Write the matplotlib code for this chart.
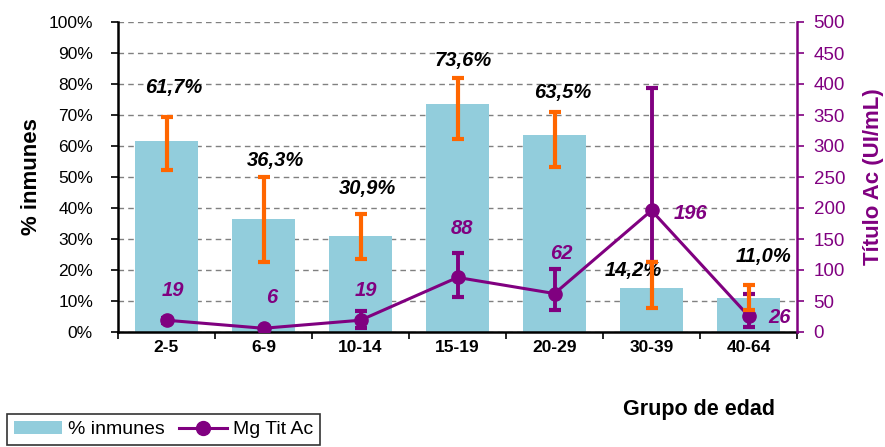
import matplotlib
matplotlib.use("Agg")
import matplotlib.pyplot as plt
import numpy as np
from matplotlib.lines import Line2D
from matplotlib.patches import Patch

plt.rcParams['font.family'] = ['Liberation Sans', 'DejaVu Sans']

# ---- data ----
groups = ["2-5", "6-9", "10-14", "15-19", "20-29", "30-39", "40-64"]
pct_immune = [61.7, 36.3, 30.9, 73.6, 63.5, 14.2, 11.0]
pct_ci_low = [52.3, 22.7, 23.4, 62.2, 53.3, 7.6, 7.1]
pct_ci_high = [69.2, 50.1, 38.2, 81.9, 71.1, 22.6, 15.3]
pct_labels = ["61,7%", "36,3%", "30,9%", "73,6%", "63,5%", "14,2%", "11,0%"]

titer_gm = [19, 6, 19, 88, 62, 196, 26]
titer_ci_low = [15, 6, 6, 56, 35, 113, 8.5]
titer_ci_high = [23, 6, 34, 128, 101, 393, 62]
titer_labels = ["19", "6", "19", "88", "62", "196", "26"]

# ---- label placement (style) ----
pct_lab_dx = [0.07, 0.12, 0.07, 0.06, 0.08, -0.19, 0.15]
pct_lab_y = [78.8, 55.3, 46.4, 87.5, 77.1, 19.7, 24.4]
tit_lab_dx = [0.07, 0.08, 0.06, 0.05, 0.07, 0.40, 0.32]
tit_lab_y = [67.5, 55.8, 67.5, 166.7, 126.5, 190.8, 23.0]

bar_color = "#92CDDC"
orange = "#FF6600"
purple = "#800080"

fig = plt.figure(figsize=(8.85, 4.47), dpi=100)
ax = fig.add_axes([118/885, 1-332/447, (797-118)/885, (332-22)/447])
ax2 = ax.twinx()

x = np.arange(len(groups))
ax.bar(x, pct_immune, width=0.64, color=bar_color, zorder=2)
pct = np.array(pct_immune)
ax.set_ylim(0, 100)
ax.set_xlim(-0.5, len(groups)-0.5)

ax.set_yticks(np.arange(0, 101, 10))
ax.set_yticklabels([f"{v}%" for v in range(0, 101, 10)], fontsize=12.5)
ax.yaxis.grid(True, linestyle=(0, (4, 3)), color="#808080", linewidth=1.0, zorder=0)
ax.set_axisbelow(True)
ax.tick_params(axis='y', direction='out', length=5, width=1.2, pad=13)

ax.set_xticks(x)
ax.set_xticklabels(groups, fontsize=12.5, fontweight='bold')
ax.set_xticks(np.arange(-0.5, len(groups), 1), minor=True)
ax.tick_params(axis='x', which='major', length=0, pad=6)
ax.tick_params(axis='x', which='minor', length=5, width=1.2, direction='out')

for s in ["top"]:
    ax.spines[s].set_visible(False)
    ax2.spines[s].set_visible(False)
ax.spines["left"].set_linewidth(1.8)
ax.spines["bottom"].set_linewidth(1.8)
ax.spines["right"].set_visible(False)
ax2.spines["left"].set_visible(False)
ax2.spines["bottom"].set_visible(False)
ax2.spines["right"].set_color(purple)
ax2.spines["right"].set_linewidth(1.8)

ax.set_ylabel("% inmunes", fontsize=16, fontweight='bold', labelpad=5)

# secondary axis
ax2.set_ylim(0, 500)
ax2.set_yticks(np.arange(0, 501, 50))
ax2.tick_params(axis='y', colors=purple, direction='out', length=5, width=1.2, labelsize=13.5, pad=7)
ax2.set_ylabel("Título Ac (UI/mL)", fontsize=16, fontweight='bold', color=purple, labelpad=13)

tg = np.array(titer_gm, dtype=float)
terr = [tg - np.array(titer_ci_low), np.array(titer_ci_high) - tg]
ax2.errorbar(x, tg, yerr=terr, fmt='none', ecolor=purple, elinewidth=2.8,
             capsize=4, capthick=3, zorder=3)
ax2.plot(x, tg, color=purple, linewidth=2.2, marker='o', markersize=9.5, zorder=4)

# orange error bars on top (percent CI, drawn on the secondary scale x5)
perr = [pct - np.array(pct_ci_low), np.array(pct_ci_high) - pct]
ax2.errorbar(x, pct*5, yerr=[perr[0]*5, perr[1]*5], fmt='none', ecolor=orange,
             elinewidth=3, capsize=4, capthick=3, zorder=5)

for i in range(len(groups)):
    ax.text(x[i] + pct_lab_dx[i], pct_lab_y[i], pct_labels[i], ha='center', va='center',
            fontsize=14.5, fontweight='bold', fontstyle='italic', color='black', zorder=6)
    ax2.text(x[i] + tit_lab_dx[i], tit_lab_y[i], titer_labels[i], ha='center', va='center',
             fontsize=14.5, fontweight='bold', fontstyle='italic', color=purple, zorder=6)

fig.text(699/885, 1-410/447, "Grupo de edad", ha='center', va='center',
         fontsize=15.5, fontweight='bold')

handles = [Patch(facecolor=bar_color, edgecolor='none'),
           Line2D([0], [0], color=purple, linewidth=2.2, marker='o', markersize=10)]
leg = fig.legend(handles, ["% inmunes", "Mg Tit Ac"], loc='upper left',
                 bbox_to_anchor=(7/885, 1-414/447), borderaxespad=0, ncol=2, frameon=True,
                 fancybox=False, edgecolor='black', fontsize=14,
                 handlelength=2.5, handletextpad=0.3, columnspacing=0.7,
                 borderpad=0.35)
leg.get_frame().set_linewidth(1.2)

fig.savefig("out.png", dpi=100)
